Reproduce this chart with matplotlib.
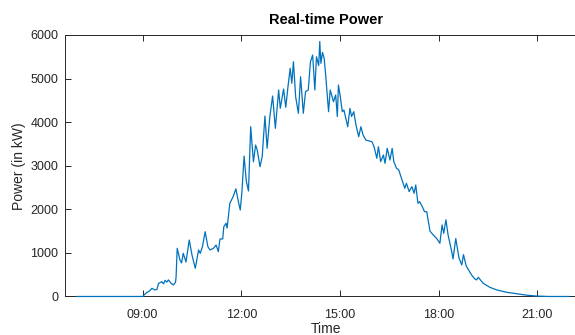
import pandas as pd
import numpy as np
import matplotlib
matplotlib.use('Agg')
import matplotlib.pyplot as plt
import matplotlib.dates as mdates

# readings taken off the plot (time of day, kW)
times = ['07:00', '09:00', '09:03', '09:07', '09:12', '09:17', '09:22', '09:26', '09:29', '09:35',
         '09:38', '09:41', '09:44', '09:47', '09:52', '09:56', '10:00', '10:01', '10:03', '10:08',
         '10:11', '10:14', '10:19', '10:25', '10:30', '10:36', '10:42', '10:45', '10:49', '10:54',
         '10:59', '11:03', '11:09', '11:14', '11:18', '11:21', '11:26', '11:28', '11:32', '11:34',
         '11:39', '11:45', '11:50', '11:55', '11:58', '12:01', '12:05', '12:09', '12:13', '12:17',
         '12:22', '12:26', '12:29', '12:34', '12:38', '12:43', '12:47', '12:52', '12:57', '13:02',
         '13:08', '13:11', '13:17', '13:21', '13:25', '13:29', '13:32', '13:35', '13:39', '13:44',
         '13:48', '13:53', '13:57', '14:02', '14:06', '14:10', '14:14', '14:17', '14:21', '14:23',
         '14:25', '14:28', '14:31', '14:34', '14:39', '14:42', '14:48', '14:52', '14:55', '14:57',
         '15:00', '15:04', '15:07', '15:14', '15:18', '15:21', '15:25', '15:29', '15:34', '15:38',
         '15:42', '15:47', '15:51', '15:58', '16:02', '16:07', '16:10', '16:14', '16:19', '16:22',
         '16:26', '16:31', '16:35', '16:38', '16:43', '16:47', '16:52', '16:58', '17:01', '17:06',
         '17:11', '17:15', '17:18', '17:22', '17:25', '17:30', '17:34', '17:38', '17:44', '17:50',
         '17:56', '18:02', '18:06', '18:09', '18:13', '18:17', '18:23', '18:26', '18:31', '18:37',
         '18:42', '18:45', '18:50', '19:00', '19:06', '19:09', '19:12', '19:21', '19:33', '19:46',
         '20:04', '20:22', '20:40', '20:58', '21:20', '21:57']
power = [0, 0, 40, 87, 120, 188, 150, 160, 300, 340,
         290, 370, 330, 380, 300, 264, 330, 455, 1105, 837,
         770, 990, 790, 1296, 950, 647, 1067, 990, 1140, 1487,
         1140, 1067, 1105, 1180, 1028, 1320, 1320, 1600, 1680, 1570,
         2138, 2290, 2470, 2150, 1984, 2400, 3220, 2650, 2420, 3895,
         3092, 3475, 3360, 2978, 3207, 4140, 3400, 4130, 4600, 3858,
         4737, 4317, 4760, 4340, 4813, 5235, 4890, 5386, 4583, 4203,
         5040, 4203, 4698, 4737, 5386, 5540, 4737, 5500, 5300, 5850,
         5350, 5600, 5465, 5042, 4240, 4737, 4470, 4623, 4130, 4851,
         4623, 4240, 4278, 3895, 4317, 4130, 4240, 3934, 3666, 3895,
         3704, 3590, 3575, 3551, 3437, 3170, 3437, 3093, 3246, 3055,
         3399, 3131, 3399, 3093, 2941, 2903, 2711, 2482, 2597, 2406,
         2520, 2367, 2558, 2138, 2176, 2060, 1945, 1945, 1500, 1410,
         1335, 1220, 1640, 1450, 1760, 1410, 1067, 860, 1330, 876,
         723, 960, 700, 490, 400, 380, 440, 302, 211, 149,
         96, 64, 30, 10, 0, 0]

t = pd.to_datetime(['2020-01-01 ' + s for s in times])

plt.rcParams['font.family'] = ['Liberation Sans', 'DejaVu Sans']

fig = plt.figure(figsize=(5.75, 3.35), dpi=100)
ax = fig.add_axes([0.1136, 0.115, 0.907, 0.7806])

# zorder above the spines so the flat zero stretch stays visible
ax.plot(t, power, color='#0072BD', lw=0.9, clip_on=False, zorder=5)

ax.set_xlim(pd.Timestamp('2020-01-01 06:39'), pd.Timestamp('2020-01-01 22:30'))
ax.set_ylim(0, 6000)
ax.set_yticks(np.arange(0, 6001, 1000))
ax.xaxis.set_major_locator(mdates.HourLocator(byhour=[9, 12, 15, 18, 21]))
ax.xaxis.set_major_formatter(mdates.DateFormatter('%H:%M'))

grey = '#262626'
for s in ax.spines.values():
    s.set_color(grey)
    s.set_linewidth(0.7)
ax.tick_params(direction='in', length=4, width=0.7, color=grey, labelcolor=grey,
               labelsize=9, top=True, right=True)
ax.tick_params(axis='x', pad=9)
ax.tick_params(axis='y', pad=5)

ax.set_title('Real-time Power', fontsize=10.5, fontweight='bold', pad=8)
ax.set_xlabel('Time', fontsize=10, color=grey, labelpad=1)
ax.set_ylabel('Power (in kW)', fontsize=10, color=grey, labelpad=3)

fig.savefig('out.png', dpi=100)
